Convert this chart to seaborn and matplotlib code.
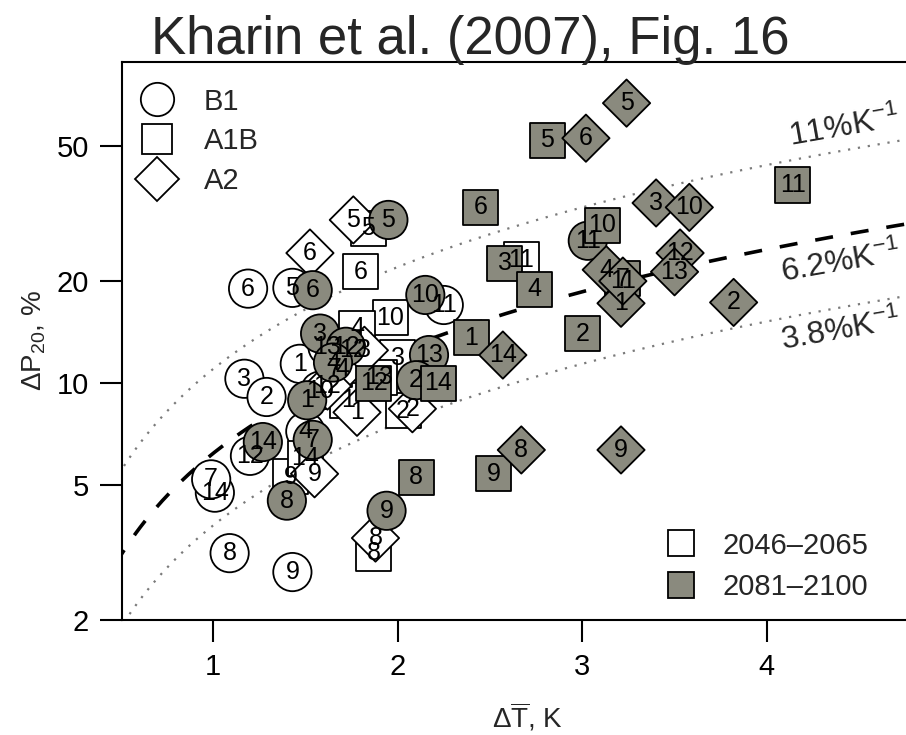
import numpy as np
import pandas as pd
import seaborn as sns
import matplotlib
matplotlib.use('Agg')
import matplotlib.pyplot as plt
from matplotlib.lines import Line2D
from matplotlib import font_manager

# ---------------- data ----------------
scenario = (['B1'] * 14 + ['A1B'] * 14 + ['A2'] * 9 +
            ['B1'] * 14 + ['A1B'] * 13 + ['A2'] * 13)
period = (['2046–2065'] * 37 + ['2081–2100'] * 40)
model = [6, 5, 11, 3, 2, 14, 7, 8, 9, 1, 12, 4, 10, 13,
         6, 5, 10, 11, 2, 8, 1, 3, 9, 4, 12, 14, 13, 7,
         6, 5, 8, 9, 1, 2, 4, 3, 12,
         5, 6, 10, 11, 13, 2, 3, 9, 8, 14, 7, 1, 12, 4,
         6, 5, 11, 10, 3, 4, 2, 1, 14, 12, 8, 9, 7,
         5, 6, 3, 10, 12, 13, 4, 1, 2, 14, 8, 9, 11]
dT = [1.19, 1.43, 2.25, 1.17, 1.29, 1.01, 0.99, 1.09, 1.43, 1.47, 1.20, 1.50, 1.58, 1.62,
      1.80, 1.84, 1.96, 2.67, 2.03, 1.87, 1.73, 2.00, 1.42, 1.78, 1.76, 1.50, 1.90, 1.66,
      1.525, 1.76, 1.88, 1.55, 1.78, 2.08, 1.70, 1.82, 1.62,
      1.95, 1.54, 2.15, 3.03, 2.17, 2.10, 1.58, 1.94, 1.40, 1.27, 1.54, 1.51, 1.72, 1.65,
      2.45, 2.81, 4.14, 3.11, 2.58, 2.74, 3.00, 2.40, 2.22, 1.87, 2.10, 2.52, 3.22,
      3.24, 3.02, 3.40, 3.58, 3.53, 3.50, 3.13, 3.21, 3.82, 2.57, 2.67, 3.21, 3.22]
dP = [19.0, 19.1, 17.0, 10.3, 9.1, 4.75, 5.2, 3.15, 2.77, 11.4, 6.1, 7.2, 9.5, 12.8,
      21.3, 28.6, 15.6, 23.1, 8.3, 3.15, 8.9, 11.9, 5.3, 14.5, 12.5, 6.0, 10.4, 11.0,
      24.2, 30.3, 3.49, 5.4, 8.2, 8.4, 11.0, 12.5, 9.8,
      30.3, 18.8, 18.2, 26.3, 12.1, 10.2, 14.0, 4.2, 4.5, 6.7, 6.8, 8.9, 12.8, 11.5,
      33.0, 52.1, 38.4, 29.2, 22.6, 18.9, 14.0, 13.6, 10.0, 10.0, 5.28, 5.4, 20.3,
      67.0, 52.8, 34.0, 33.0, 24.2, 21.3, 21.6, 17.2, 17.3, 12.1, 6.35, 6.35, 20.0]

slopes = [11.0, 6.2, 3.8]
slope_labels = ['11%K$^{-1}$', '6.2%K$^{-1}$', '3.8%K$^{-1}$']
y_ticks = [2, 5, 10, 20, 50]
x_ticks = [1, 2, 3, 4]

df = pd.DataFrame({'scenario': scenario, 'period': period, 'model': model,
                   'dT': dT, 'dP': dP})

# ---------------- style ----------------
sns.set_theme(style='white')
names = {f.name for f in font_manager.fontManager.ttflist}
narrow = 'Liberation Sans Narrow' if 'Liberation Sans Narrow' in names else 'Liberation Sans'
plt.rcParams['font.family'] = ['Liberation Sans', 'DejaVu Sans']
plt.rcParams['mathtext.fontset'] = 'custom'
plt.rcParams['mathtext.rm'] = 'Liberation Sans'
plt.rcParams['mathtext.it'] = 'Liberation Sans'
plt.rcParams['mathtext.bf'] = 'Liberation Sans'

GRAY = '#8a8a7e'

fig = plt.figure(figsize=(9.06, 7.35), dpi=100)
L, R, B, T = 122, 933, 620, 62
ax = fig.add_axes([L / 906, 1 - B / 735, (R - L) / 906, (B - T) / 735])

# reference lines
xs = np.linspace(0.3, 5.0, 200)
for s in slopes:
    if s == 6.2:
        ax.plot(xs, s * xs, color='black', lw=2.6, ls=(0, (5, 5)), zorder=1)
    else:
        ax.plot(xs, s * xs, color='#7a7a7a', lw=1.6, ls=(0, (1, 3.5)), zorder=1)

sns.scatterplot(data=df, x='dT', y='dP', style='scenario', hue='period',
                size='scenario',
                markers={'B1': 'o', 'A1B': 's', 'A2': 'D'},
                palette={'2046–2065': 'white', '2081–2100': GRAY},
                sizes={'B1': 760, 'A1B': 640, 'A2': 580},
                edgecolor='black', linewidth=1.3, alpha=1.0,
                legend=False, ax=ax, zorder=3)

for x, y, m in zip(dT, dP, model):
    ax.text(x, y, str(m), ha='center', va='center', fontsize=18,
            family=narrow, color='black', zorder=4)

ax.set_yscale('log')
ax.set_xlim(0.507, 4.9)
ax.set_ylim(2, 88.6)
ax.set_yticks(y_ticks)
ax.set_yticklabels([str(v) for v in y_ticks])
ax.yaxis.set_minor_locator(matplotlib.ticker.NullLocator())
ax.set_xticks(x_ticks)
ax.set_xticklabels([str(v) for v in x_ticks])
ax.tick_params(axis='both', direction='out', length=16, width=1.5,
               labelsize=21, pad=8, color='black', labelcolor='black')
ax.tick_params(axis='y', left=True)
ax.tick_params(axis='x', bottom=True)
for sp in ['left', 'bottom', 'top']:
    ax.spines[sp].set_color('black')
    ax.spines[sp].set_linewidth(1.5)
ax.spines['right'].set_visible(False)
ax.grid(False)

ax.set_xlabel(r'$\Delta\overline{\mathrm{T}}$, K', fontsize=20, labelpad=14)
ax.set_ylabel(r'$\Delta$P$_{20}$, %', fontsize=20, labelpad=6)

# slope labels
for lab, (x0, y0) in zip(slope_labels, [(4.12, 53.0), (4.08, 21.0), (4.08, 13.3)]):
    ax.text(x0, y0, lab, fontsize=23, rotation=10, ha='left', va='center',
            rotation_mode='anchor', zorder=5)

# legends
h1 = [Line2D([], [], marker=mk, ls='', mfc='white', mec='black', mew=1.3,
             ms=ms, label=lb)
      for mk, ms, lb in [('o', 24, 'B1'), ('s', 22, 'A1B'), ('D', 22, 'A2')]]
leg1 = ax.legend(handles=h1, loc='upper left', bbox_to_anchor=(128 / 906, 1 - 76 / 735),
                 bbox_transform=fig.transFigure, frameon=False, fontsize=21,
                 handletextpad=1.0, labelspacing=0.4, borderaxespad=0,
                 handlelength=1.2)
ax.add_artist(leg1)
h2 = [Line2D([], [], marker='s', ls='', mfc=c, mec='black', mew=1.3, ms=19, label=lb)
      for c, lb in [('white', '2046–2065'), (GRAY, '2081–2100')]]
leg2 = ax.legend(handles=h2, loc='upper left', bbox_to_anchor=(652 / 906, 1 - 520 / 735),
                 bbox_transform=fig.transFigure, frameon=False, fontsize=21,
                 handletextpad=0.8, labelspacing=0.45, borderaxespad=0,
                 handlelength=1.2)

fig.text(470 / 906, 1 - 54 / 735, 'Kharin et al. (2007), Fig. 16', ha='center',
         va='baseline', fontsize=38, family=narrow)

fig.savefig('out.png', dpi=100)
